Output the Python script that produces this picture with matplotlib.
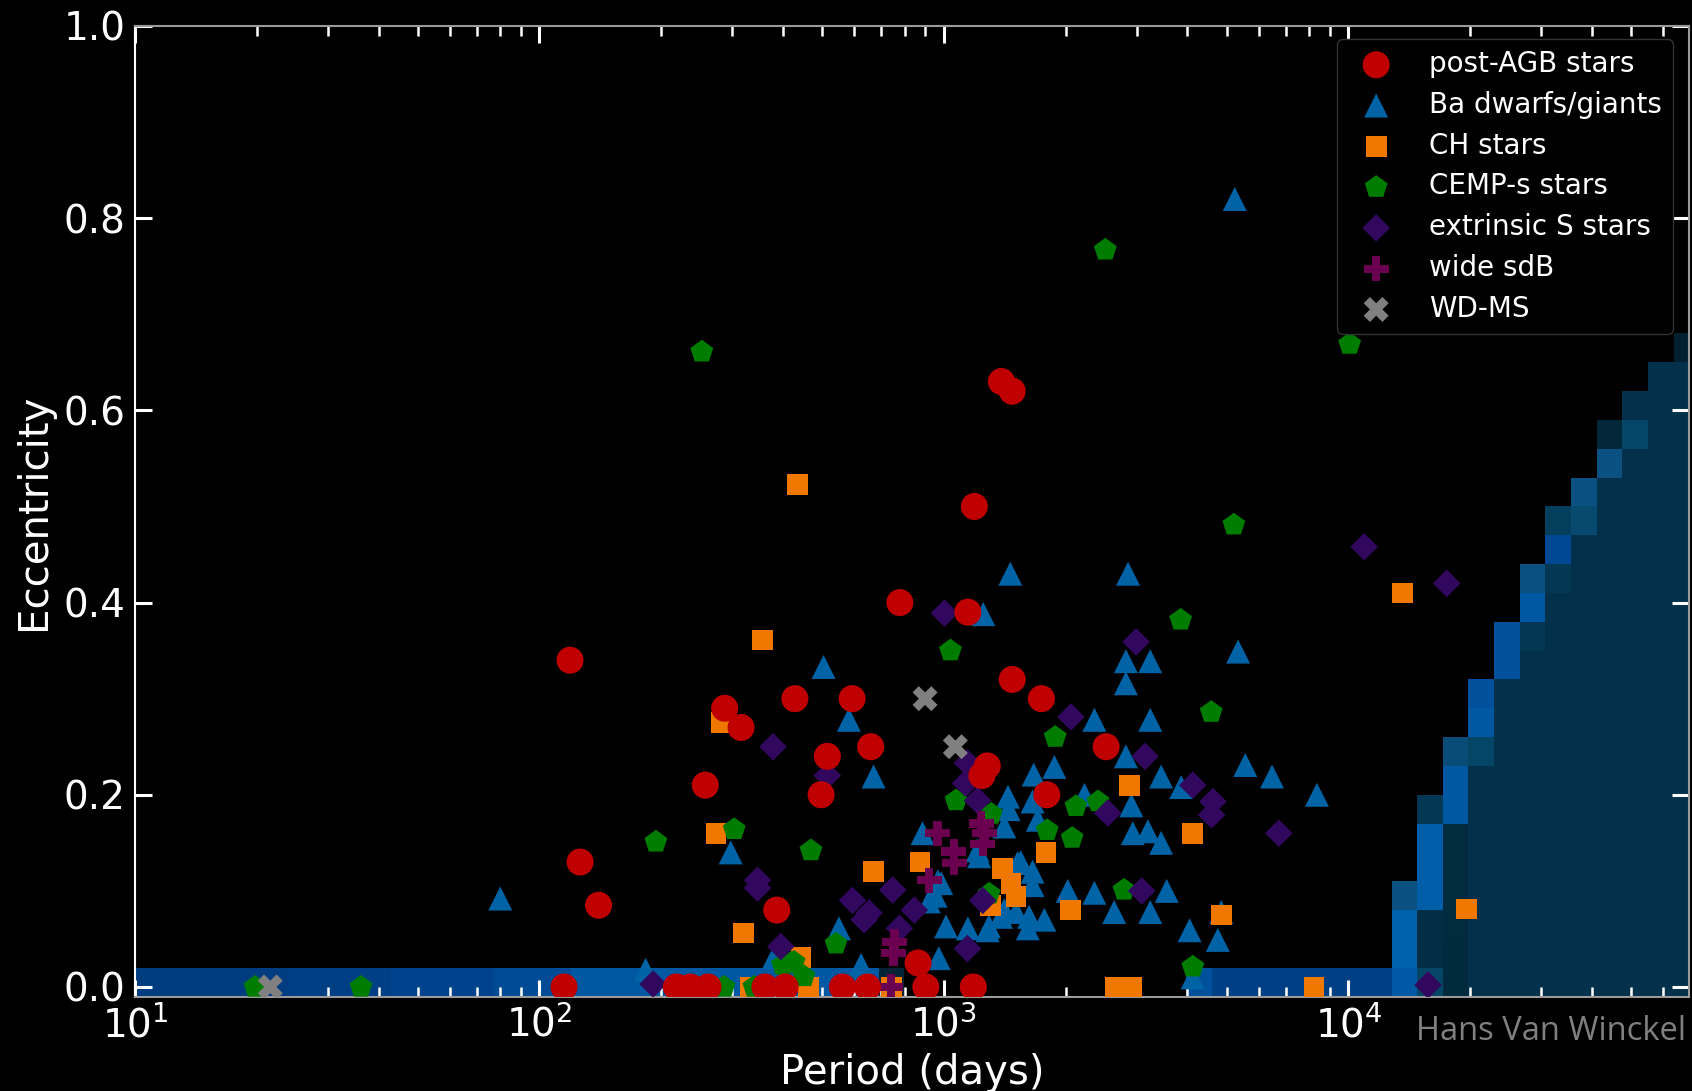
import numpy as np
import matplotlib
matplotlib.use("Agg")
import matplotlib.pyplot as plt
from matplotlib.colors import LinearSegmentedColormap
from matplotlib.ticker import LogLocator, NullFormatter, MultipleLocator

# ---------------- scatter data (period in days, eccentricity) ----------------
postagb_P = [119, 126, 140, 115, 257, 287, 315, 428, 515, 497, 386, 593, 659, 778,
             1146, 1189, 1387, 1475, 1475, 1742, 1796, 1280, 1241, 2518, 863,
             218, 236, 261, 361, 405, 561, 647, 902, 1182]
postagb_e = [0.34, 0.13, 0.085, 0.0, 0.21, 0.29, 0.27, 0.30, 0.24, 0.20, 0.08, 0.30, 0.25, 0.40,
             0.39, 0.50, 0.63, 0.62, 0.32, 0.30, 0.20, 0.23, 0.22, 0.25, 0.025,
             0.0, 0.0, 0.0, 0.0, 0.0, 0.0, 0.0, 0.0, 0.0]

ba_P = [80, 183, 297, 380, 504, 550, 582, 624, 670, 885, 918, 953, 966, 971, 985,
        1012, 1146, 1211, 1222, 1251, 1283, 1292, 1384, 1410, 1410, 1440, 1445, 1459,
        1508, 1521, 1549, 1612, 1624, 1656, 1656, 1656, 1667, 1706, 1771, 1875, 2023,
        2225, 2355, 2355, 2636, 2818, 2818, 2818, 2852, 2906, 2930, 3193, 3236, 3236,
        3236, 3443, 3443, 3555, 3860, 4049, 4120, 4755, 4850, 5236, 5337, 5560, 6475, 8360]
ba_e = [0.092, 0.018, 0.14, 0.031, 0.333, 0.061, 0.278, 0.023, 0.219, 0.16, 0.089, 0.095, 0.11, 0.030, 0.108,
        0.063, 0.061, 0.142, 0.136, 0.388, 0.059, 0.063, 0.073, 0.167, 0.08, 0.198, 0.185, 0.43,
        0.078, 0.129, 0.13, 0.061, 0.073, 0.193, 0.12, 0.106, 0.221, 0.174, 0.07, 0.229, 0.10,
        0.20, 0.278, 0.098, 0.078, 0.339, 0.316, 0.24, 0.43, 0.189, 0.16, 0.162, 0.339, 0.278,
        0.078, 0.219, 0.15, 0.10, 0.208, 0.059, 0.01, 0.049, 0.078, 0.82, 0.349, 0.231, 0.219, 0.20]

ch_P = [273, 281, 320, 333, 356, 434, 443, 463, 670, 743, 873, 1306, 1393, 1465, 1508,
        1788, 2052, 2660, 2876, 2912, 4110, 4850, 8220, 13580, 19590]
ch_e = [0.16, 0.275, 0.056, 0.0, 0.361, 0.523, 0.031, 0.0, 0.12, 0.0, 0.13, 0.085, 0.123, 0.108, 0.094,
        0.14, 0.08, 0.0, 0.21, 0.0, 0.16, 0.075, 0.0, 0.41, 0.081]

cemp_P = [19.8, 36.2, 194, 252, 286, 303, 339, 399, 419, 426, 451, 469, 541, 1038, 1071,
          1294, 1309, 1800, 1884, 2075, 2120, 2405, 2506, 2787, 3848, 4125, 4580, 5210, 10070]
cemp_e = [0.0, 0.0, 0.151, 0.661, 0.0, 0.164, 0.0, 0.023, 0.025, 0.026, 0.011, 0.142, 0.045, 0.35, 0.194,
          0.097, 0.18, 0.163, 0.26, 0.155, 0.188, 0.193, 0.767, 0.101, 0.382, 0.021, 0.286, 0.481, 0.669]

s_P = [191, 346, 346, 378, 395, 515, 594, 635, 653, 747, 776, 845, 1003, 1132, 1143, 1143,
       1211, 1247, 2061, 2541, 2986, 3083, 3143, 4123, 4589, 4624, 6730, 10940, 15740, 17500]
s_e = [0.003, 0.111, 0.103, 0.25, 0.042, 0.22, 0.09, 0.07, 0.077, 0.101, 0.061, 0.08, 0.389, 0.212, 0.233, 0.04,
       0.194, 0.09, 0.281, 0.181, 0.359, 0.10, 0.24, 0.21, 0.179, 0.193, 0.16, 0.458, 0.002, 0.42]

sdb_P = [739, 750, 754, 920, 964, 1057, 1060, 1236, 1247, 1259]
sdb_e = [0.0, 0.035, 0.047, 0.111, 0.16, 0.141, 0.129, 0.170, 0.149, 0.160]

wdms_P = [21.6, 898, 1067]
wdms_e = [0.0, 0.30, 0.25]

# ---------------- background model density (log-period x eccentricity bins) ----------------
logP_bin0, logP_binw = 1.0, 0.0634
e_bin0, e_binw = -0.01, 0.03
# bottom eccentricity row, period columns 0..48 (nan = empty)
band_row = ([0.70] * 6 + [0.72] * 4 + [0.76] * 4 + [0.82] * 3 + [0.90] * 12 + [0.08]
            + [np.nan] * 11 + [0.85] + [0.72] * 7)
# long-period columns 49..60, values from the bottom row upwards
right_cols = [
    [0.92, 1.0, 1.0, 0.6],
    [0.45, 0.22, 0.22, 0.95, 0.95, 0.95, 0.35],
    [0.15, 0.15, 0.18, 0.18, 0.18, 0.18, 0.9, 0.9, 0.55],
    [0.3] * 8 + [0.45, 0.9, 0.85],
    [0.3] * 11 + [0.85, 0.85],
    [0.3] * 12 + [0.35, 0.9, 0.6],
    [0.3] * 14 + [0.35, 0.8, 0.4],
    [0.3] * 16 + [0.5, 0.6],
    [0.3] * 18 + [0.6, 0.12],
    [0.3] * 19 + [0.45, 0.3],
    [0.3] * 22,
    [0.3] * 22 + [0.05],
]

ncols = len(band_row) + len(right_cols)
nrows = 24
Z = np.full((nrows, ncols), np.nan)
Z[0, :len(band_row)] = band_row
for i, col in enumerate(right_cols):
    Z[:len(col), len(band_row) + i] = col
P_edges = 10 ** (logP_bin0 + logP_binw * np.arange(ncols + 1))
E_edges = e_bin0 + e_binw * np.arange(nrows + 1)

cmap = LinearSegmentedColormap.from_list("bg", [
    (0.00, "#021b28"), (0.15, "#022a3e"), (0.30, "#03304a"), (0.45, "#054566"),
    (0.60, "#0a5080"), (0.70, "#003c80"), (0.80, "#004893"), (0.90, "#0057a2"),
    (1.00, "#0062ad")])

# ---------------- figure ----------------
fig = plt.figure(figsize=(16.92, 10.91), dpi=100, facecolor="black")
ax = fig.add_axes([0.0798, 0.0862, 0.9184, 0.8900])
ax.set_facecolor("black")

ax.pcolormesh(P_edges, E_edges, np.ma.masked_invalid(Z), cmap=cmap, vmin=0, vmax=1,
              shading="flat", edgecolors="none", antialiased=False, zorder=0)

px = 0.72  # pixels -> points at dpi 100
series = [
    ("Ba dwarfs/giants", ba_P, ba_e, "^", "#0063a6", (24 * px) ** 2, 2),
    ("CH stars", ch_P, ch_e, "s", "#f07800", (20.7 * px) ** 2, 3),
    ("CEMP-s stars", cemp_P, cemp_e, "p", "#007c00", (24 * px) ** 2, 4),
    ("extrinsic S stars", s_P, s_e, "D", "#32085f", (19.5 * px) ** 2, 5),
    ("wide sdB", sdb_P, sdb_e, "P", "#6a004f", (25 * px) ** 2, 6),
    ("WD-MS", wdms_P, wdms_e, "X", "#808080", (25 * px) ** 2, 7),
    ("post-AGB stars", postagb_P, postagb_e, "o", "#c00000", (27 * px) ** 2, 8),
]
handles = {}
for label, P, e, m, c, s, z in series:
    handles[label] = ax.scatter(P, e, marker=m, s=s, c=c, edgecolors="none",
                                zorder=z, label=label)

ax.set_xscale("log")
ax.set_xlim(10, 10 ** 4.842)
ax.set_ylim(-0.0104, 1.0)
ax.yaxis.set_major_locator(MultipleLocator(0.2))
ax.xaxis.set_major_locator(LogLocator(base=10))
ax.xaxis.set_minor_locator(LogLocator(base=10, subs=np.arange(2, 10)))
ax.xaxis.set_minor_formatter(NullFormatter())

ax.tick_params(which="major", direction="in", length=12, width=2.2, colors="white",
               labelsize=28, top=True, right=True)
ax.tick_params(which="minor", direction="in", length=7, width=1.8, colors="white",
               top=True, right=True)
ax.tick_params(axis="x", which="major", pad=6)
ax.tick_params(axis="y", which="major", pad=7)

for name, sp in ax.spines.items():
    sp.set_color("white" if name == "left" else "#9a9a9a")
    sp.set_linewidth(1.5)

ax.set_xlabel("Period (days)", fontsize=29, color="white", labelpad=6)
ax.set_ylabel("Eccentricity", fontsize=29, color="white", labelpad=7)

order = ["post-AGB stars", "Ba dwarfs/giants", "CH stars", "CEMP-s stars",
         "extrinsic S stars", "wide sdB", "WD-MS"]
leg = ax.legend([handles[k] for k in order], order, loc="upper right",
                bbox_to_anchor=(0.9897, 0.9866), borderaxespad=0, fontsize=20,
                frameon=True, facecolor="black", edgecolor="#333333", framealpha=1,
                labelcolor="white", handlelength=2.0, handletextpad=0.9,
                labelspacing=0.46, borderpad=0.4, scatterpoints=1)
leg.set_zorder(20)

fig.text(0.9965, 1 - 1031 / 1091, "Hans Van Winckel", ha="right", va="center",
         color="#808080", fontsize=23.5, family=["Open Sans", "DejaVu Sans"])

fig.savefig("out.png", dpi=100, facecolor="black")
